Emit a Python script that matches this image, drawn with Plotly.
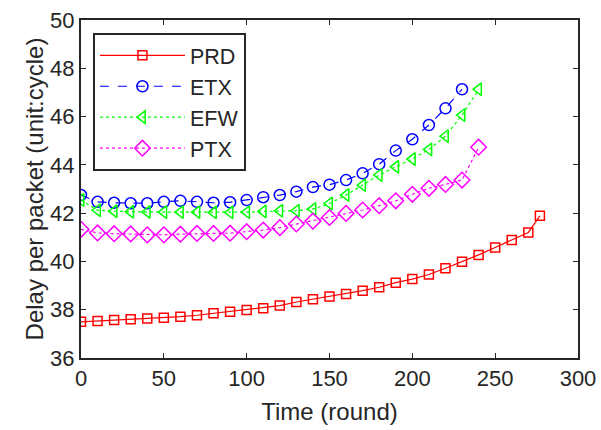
import plotly.graph_objects as go

# ---- data ----
prd_x = [0, 10, 20, 30, 40, 50, 60, 70, 80, 90, 100, 110, 120, 130, 140, 150,
         160, 170, 180, 190, 200, 210, 220, 230, 240, 250, 260, 270, 277]
prd_y = [37.50, 37.53, 37.57, 37.60, 37.64, 37.67, 37.71, 37.77, 37.85, 37.92,
         37.99, 38.06, 38.17, 38.32, 38.43, 38.55, 38.65, 38.79, 38.93, 39.12,
         39.27, 39.46, 39.72, 39.99, 40.27, 40.58, 40.89, 41.20, 41.89]

etx_x = list(range(0, 231, 10))
etx_y = [42.75, 42.47, 42.43, 42.41, 42.41, 42.47, 42.51, 42.47, 42.43, 42.45,
         42.54, 42.66, 42.75, 42.89, 43.08, 43.18, 43.37, 43.65, 44.03, 44.59,
         45.06, 45.65, 46.34, 47.13]

efw_x = list(range(0, 241, 10))
efw_y = [42.55, 42.12, 42.08, 42.06, 42.05, 42.04, 42.04, 42.04, 42.03, 42.03,
         42.04, 42.07, 42.10, 42.10, 42.17, 42.40, 42.75, 43.16, 43.58, 43.92,
         44.24, 44.64, 45.19, 46.06, 47.13]

ptx_x = list(range(0, 241, 10))
ptx_y = [41.33, 41.18, 41.15, 41.14, 41.10, 41.10, 41.13, 41.16, 41.16, 41.17,
         41.23, 41.30, 41.40, 41.55, 41.67, 41.82, 41.99, 42.13, 42.31, 42.51,
         42.78, 43.03, 43.19, 43.37, 44.73]

x_ticks = [0, 50, 100, 150, 200, 250, 300]
y_ticks = [36, 38, 40, 42, 44, 46, 48, 50]

FONT = "Liberation Sans, Arial, sans-serif"
TXT = "#262626"

fig = go.Figure()
fig.add_trace(go.Scatter(x=prd_x, y=prd_y, name="PRD", mode="lines+markers",
                         line=dict(color="#ff0000", width=1.2, dash="solid"),
                         marker=dict(symbol="square-open", size=9, color="#ff0000",
                                     line=dict(width=1.5))))
fig.add_trace(go.Scatter(x=etx_x, y=etx_y, name="ETX", mode="lines+markers",
                         line=dict(color="#0000ff", width=1.2, dash="dash"),
                         marker=dict(symbol="circle-open", size=11, color="#0000ff",
                                     line=dict(width=1.5))))
fig.add_trace(go.Scatter(x=efw_x, y=efw_y, name="EFW", mode="lines+markers",
                         line=dict(color="#00ff00", width=1.2, dash="dot"),
                         marker=dict(symbol="triangle-left-open", size=11, color="#00ff00",
                                     line=dict(width=1.5))))
fig.add_trace(go.Scatter(x=ptx_x, y=ptx_y, name="PTX", mode="lines+markers",
                         line=dict(color="#ff00ff", width=1.2, dash="dot"),
                         marker=dict(symbol="diamond-open", size=12, color="#ff00ff",
                                     line=dict(width=1.5))))

axis_common = dict(showline=True, linecolor="#262626", linewidth=2, mirror="ticks",
                   ticks="inside", ticklen=5, tickwidth=1, tickcolor="#262626",
                   showgrid=False, zeroline=False, automargin=False,
                   tickfont=dict(family=FONT, size=22, color=TXT))

fig.update_xaxes(range=[0, 300], tickvals=x_ticks,
                 title=dict(text="Time (round)", font=dict(family=FONT, size=24, color=TXT),
                            standoff=13),
                 **axis_common)
fig.update_yaxes(range=[36, 50], tickvals=y_ticks,
                 title=dict(text="Delay per packet (unit:cycle)",
                            font=dict(family=FONT, size=24, color=TXT), standoff=0),
                 **axis_common)

fig.update_layout(
    width=601, height=430,
    margin=dict(l=81, r=23, t=20, b=72),
    paper_bgcolor="white", plot_bgcolor="white",
    showlegend=True,
    legend=dict(x=0.024, y=0.962, xanchor="left", yanchor="top",
                bgcolor="white", bordercolor="#262626", borderwidth=2,
                font=dict(family=FONT, size=21.5, color=TXT),
                itemwidth=85, tracegroupgap=0),
)

fig.write_html("out.html", config={"displayModeBar": False},
               post_script="document.body.style.margin='0';")
